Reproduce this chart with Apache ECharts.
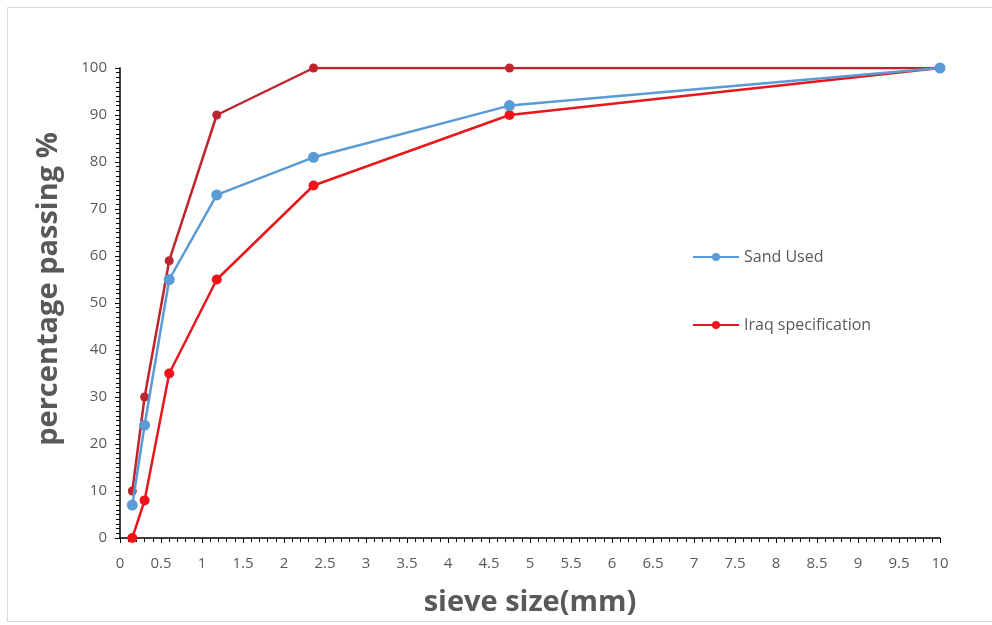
<!DOCTYPE html>
<html>
<head>
<meta charset="utf-8">
<script src="https://cdn.jsdelivr.net/npm/echarts@6/dist/echarts.min.js"></script>
<style>
html,body{margin:0;padding:0;background:#fff;}
#chart{width:992px;height:625px;}
</style>
</head>
<body>
<div id="chart"></div>
<script>
const sieveSizes = [0.15, 0.3, 0.6, 1.18, 2.36, 4.75, 10];
const sandUsed = [7, 24, 55, 73, 81, 92, 100];
const specUpper = [10, 30, 59, 90, 100, 100, 100];
const specLower = [0, 8, 35, 55, 75, 90, 100];

const pairs = (xs, ys) => xs.map((x, i) => [x, ys[i]]);
const font = '"Open Sans", sans-serif';

const chart = echarts.init(document.getElementById('chart'));
chart.setOption({
  animation: false,
  backgroundColor: '#fff',
  graphic: [{
    type: 'rect', left: 5, top: 5,
    shape: { width: 985, height: 614 },
    style: { fill: 'none', stroke: '#d9d9d9', lineWidth: 1 }
  }],
  grid: { left: 120, right: 52, top: 68, bottom: 87 },
  legend: {
    orient: 'vertical', left: 687, top: 244, itemGap: 52,
    itemWidth: 46, itemHeight: 10,
    textStyle: { color: '#595959', fontSize: 16, fontFamily: font },
    data: ['Sand Used', 'Iraq specification']
  },
  xAxis: {
    type: 'value', min: 0, max: 10, interval: 0.5,
    name: 'sieve size(mm)', nameLocation: 'middle', nameGap: 50,
    nameTextStyle: { color: '#595959', fontSize: 29, fontWeight: 'bold', fontFamily: font },
    axisLine: { lineStyle: { color: '#000', width: 1.5 } },
    axisTick: { show: true, length: 5, lineStyle: { color: '#000' } },
    minorTick: { show: true, splitNumber: 5, length: 4, lineStyle: { color: '#000' } },
    axisLabel: { color: '#595959', fontSize: 15, margin: 18, fontFamily: font },
    splitLine: { show: false }
  },
  yAxis: {
    type: 'value', min: 0, max: 100, interval: 10,
    name: 'percentage passing %', nameLocation: 'middle', nameGap: 57,
    nameTextStyle: { color: '#595959', fontSize: 29, fontWeight: 'bold', fontFamily: font, padding: [0, 0, 0, 28] },
    axisLine: { show: true, lineStyle: { color: '#000', width: 1.5 } },
    axisTick: { show: true, length: 5, lineStyle: { color: '#000' } },
    minorTick: { show: true, splitNumber: 10, length: 4, lineStyle: { color: '#000' } },
    axisLabel: { color: '#595959', fontSize: 15, margin: 13, fontFamily: font },
    splitLine: { show: false }
  },
  series: [
    {
      name: 'Sand Used', type: 'line', data: pairs(sieveSizes, sandUsed),
      symbol: 'circle', symbolSize: 11,
      lineStyle: { color: '#5B9BD5', width: 2.5 },
      itemStyle: { color: '#5B9BD5' }, z: 3
    },
    {
      name: 'Iraq specification upper', type: 'line', data: pairs(sieveSizes, specUpper),
      symbol: 'circle', symbolSize: 9,
      lineStyle: { color: '#C0242C', width: 2.5 },
      itemStyle: { color: '#C0242C' }, z: 2
    },
    {
      name: 'Iraq specification', type: 'line', data: pairs(sieveSizes, specLower),
      symbol: 'circle', symbolSize: 10,
      lineStyle: { color: '#E8171C', width: 2.5 },
      itemStyle: { color: '#F0141A' }, z: 2
    }
  ]
});
</script>
</body>
</html>
